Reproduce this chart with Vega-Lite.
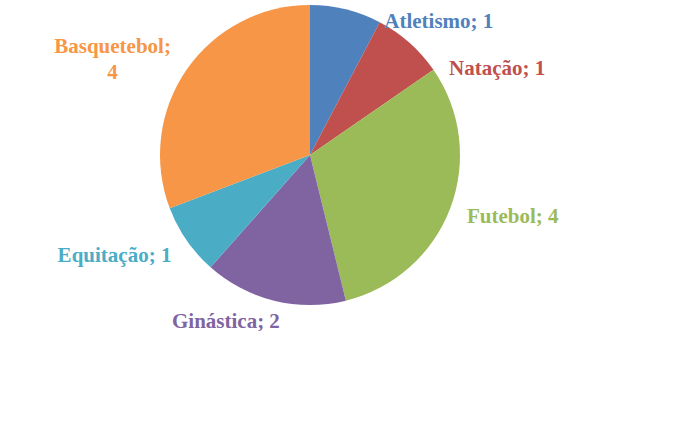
{
  "$schema": "https://vega.github.io/schema/vega-lite/v6.json",
  "width": 300,
  "height": 300,
  "autosize": "none",
  "padding": {"left": 160, "top": 5, "right": 235, "bottom": 131},
  "background": "white",
  "config": {"view": {"stroke": null}},
  "data": {
    "values": [
      {"esporte": "Atletismo", "n": 1},
      {"esporte": "Natação", "n": 1},
      {"esporte": "Futebol", "n": 4},
      {"esporte": "Ginástica", "n": 2},
      {"esporte": "Equitação", "n": 1},
      {"esporte": "Basquetebol", "n": 4}
    ]
  },
  "transform": [
    {"calculate": "datum.esporte == 'Basquetebol' ? [datum.esporte + ';', '' + datum.n] : datum.esporte + '; ' + datum.n", "as": "rotulo"},
    {"calculate": "indexof(['Atletismo', 'Natação', 'Futebol', 'Ginástica', 'Equitação', 'Basquetebol'], datum.esporte)", "as": "ordem"}
  ],
  "layer": [
    {
      "mark": {"type": "arc", "outerRadius": 150},
      "encoding": {
        "theta": {"field": "n", "type": "quantitative", "stack": true},
        "order": {"field": "ordem", "type": "quantitative", "sort": "ascending"},
        "color": {
          "field": "esporte", "type": "nominal",
          "scale": {
            "domain": ["Atletismo", "Natação", "Futebol", "Ginástica", "Equitação", "Basquetebol"],
            "range": ["#4F81BD", "#C0504D", "#9BBB59", "#8064A2", "#4BACC6", "#F79646"]
          },
          "legend": null
        }
      }
    },
    {
      "mark": {
        "type": "text", "font": "Liberation Serif", "fontWeight": "bold", "fontSize": 21,
        "align": "center", "baseline": "middle", "lineHeight": 26,
        "theta": {"expr": "[0.770, 1.140, 1.867, 3.608, 4.236, 5.213][indexof(['Atletismo', 'Natação', 'Futebol', 'Ginástica', 'Equitação', 'Basquetebol'], datum.esporte)]"},
        "radius": {"expr": "[185, 206, 212, 187, 220, 225][indexof(['Atletismo', 'Natação', 'Futebol', 'Ginástica', 'Equitação', 'Basquetebol'], datum.esporte)]"}
      },
      "encoding": {
        "text": {"field": "rotulo", "type": "nominal"},
        "color": {
          "field": "esporte", "type": "nominal",
          "scale": {
            "domain": ["Atletismo", "Natação", "Futebol", "Ginástica", "Equitação", "Basquetebol"],
            "range": ["#4F81BD", "#C0504D", "#9BBB59", "#8064A2", "#4BACC6", "#F79646"]
          },
          "legend": null
        }
      }
    }
  ]
}
